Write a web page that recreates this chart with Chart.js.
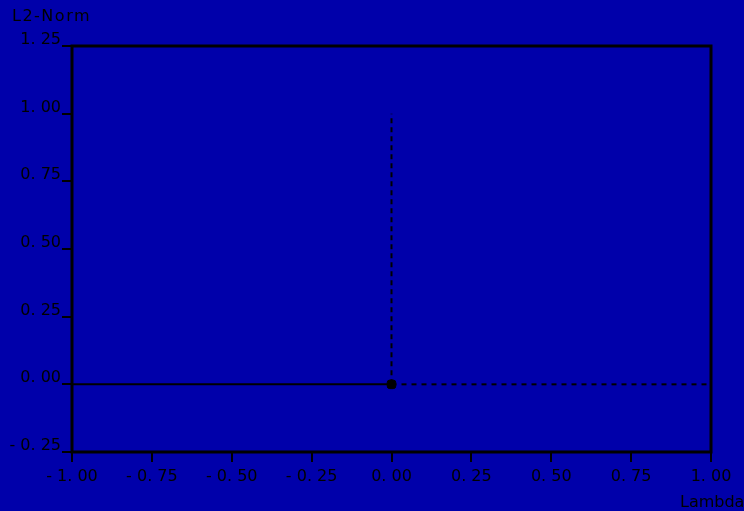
<!DOCTYPE html>
<html>
<head>
<meta charset="utf-8">
<script src="https://cdn.jsdelivr.net/npm/chart.js@4/dist/chart.umd.min.js"></script>
<style>
  html, body { margin: 0; padding: 0; background: #0000aa; }
  #wrap { width: 744px; height: 511px; }
</style>
</head>
<body>
<div id="wrap"><canvas id="lambdaChart" width="744" height="511"></canvas></div>
<script>
// data
const solidLambda = [-1, 0];
const solidNorm = [0, 0];
const dashLambda = [0, 1];
const dashNorm = [0, 0];
const vertLambda = [0, 0];
const vertNorm = [0, 1];
const markerLambda = [0];
const markerNorm = [0];
const xTicks = [-1, -0.75, -0.5, -0.25, 0, 0.25, 0.5, 0.75, 1];
const yTicks = [-0.25, 0, 0.25, 0.5, 0.75, 1, 1.25];
const yTitle = 'L2-Norm';
const xTitle = 'Lambda';

const pts = (xs, ys) => xs.map((x, i) => ({ x: x, y: ys[i] }));
const FONT = 'DejaVu Sans';
// the original renders numbers with a gap after the sign and the point
const fmt = v => v.toFixed(2).replace('-', '- ').replace('.', '. ');

// background + frame + corner titles
const decor = {
  id: 'decor',
  beforeDraw(chart) {
    const c = chart.ctx;
    c.save();
    c.fillStyle = '#0000aa';
    c.fillRect(0, 0, chart.width, chart.height);
    c.restore();
  },
  afterDraw(chart) {
    const c = chart.ctx, a = chart.chartArea;
    c.save();
    c.strokeStyle = '#000';
    c.lineWidth = 3;
    c.strokeRect(a.left, a.top, a.right - a.left, a.bottom - a.top);
    c.fillStyle = '#000';
    c.font = '16px ' + FONT;
    c.textBaseline = 'middle';
    c.textAlign = 'left';
    c.fillText(xTitle, 680, 503);
    if ('letterSpacing' in c) c.letterSpacing = '1.5px';
    c.fillText(yTitle, 12, 17);
    c.restore();
  }
};

const ctx = document.getElementById('lambdaChart').getContext('2d');
new Chart(ctx, {
  type: 'line',
  data: {
    datasets: [
      {
        data: pts(solidLambda, solidNorm),
        borderColor: '#000', borderWidth: 2, pointRadius: 0, fill: false
      },
      {
        data: pts(dashLambda, dashNorm),
        borderColor: '#000', borderWidth: 2, borderDash: [5, 5], pointRadius: 0, fill: false
      },
      {
        data: pts(vertLambda, vertNorm),
        borderColor: '#000', borderWidth: 2, borderDash: [5, 4], pointRadius: 0, fill: false
      },
      {
        data: pts(markerLambda, markerNorm),
        showLine: false, pointStyle: 'rectRounded', pointRadius: 5,
        backgroundColor: '#000', borderColor: '#000'
      }
    ]
  },
  options: {
    responsive: false,
    animation: false,
    layout: { padding: { top: 46, right: 33, left: 0, bottom: 0 } },
    plugins: { legend: { display: false }, tooltip: { enabled: false } },
    scales: {
      x: {
        type: 'linear', min: -1, max: 1,
        afterFit: s => { s.height = 59; },
        afterBuildTicks: s => { s.ticks = xTicks.map(v => ({ value: v })); },
        grid: { drawOnChartArea: false, color: '#000', lineWidth: 2, tickLength: 10 },
        border: { display: false },
        ticks: {
          color: '#000', font: { family: FONT, size: 16 }, padding: 5, maxRotation: 0,
          callback: fmt
        }
      },
      y: {
        type: 'linear', min: -0.25, max: 1.25,
        afterFit: s => { s.width = 72; },
        afterBuildTicks: s => { s.ticks = yTicks.map(v => ({ value: v })); },
        grid: { drawOnChartArea: false, color: '#000', lineWidth: 2, tickLength: 10 },
        border: { display: false },
        ticks: {
          color: '#000', font: { family: FONT, size: 16 }, padding: 1, labelOffset: -6,
          callback: fmt
        }
      }
    }
  },
  plugins: [decor]
});
</script>
</body>
</html>
